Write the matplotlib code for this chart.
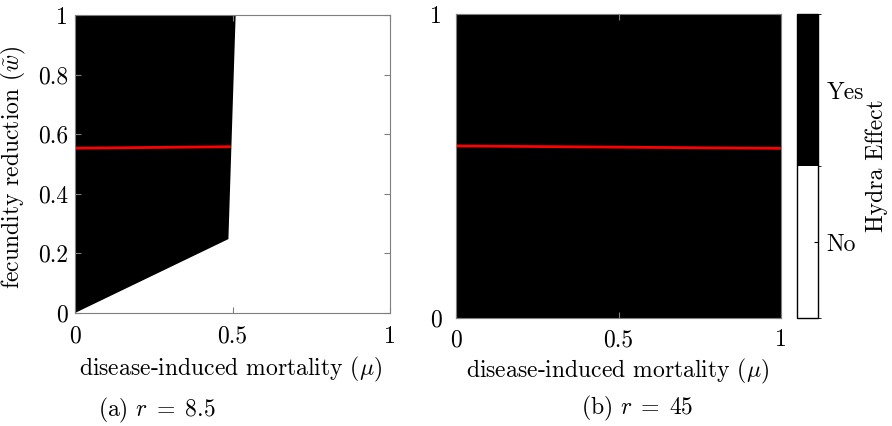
import matplotlib
matplotlib.use("Agg")
import matplotlib.pyplot as plt
from matplotlib.colors import ListedColormap, BoundaryNorm
from matplotlib.cm import ScalarMappable

plt.rcParams['font.family'] = ['cmr10', 'DejaVu Serif']
plt.rcParams['mathtext.fontset'] = 'cm'
plt.rcParams['axes.formatter.use_mathtext'] = True
FS = 17

# Panel (a): r = 8.5, Hydra-effect region (polygon boundary)
region_a_mu = [0.0, 0.487, 0.51, 0.0]
region_a_w = [0.0, 0.248, 1.0, 1.0]
red_a_mu = [0.0, 0.49]
red_a_w = [0.553, 0.558]

# Panel (b): r = 45, Hydra-effect region covers the whole domain
region_b_mu = [0.0, 1.0, 1.0, 0.0]
region_b_w = [0.0, 0.0, 1.0, 1.0]
red_b_mu = [0.0, 0.995]
red_b_w = [0.566, 0.558]

xticks_a = [0, 0.5, 1]
xticklabels_a = ['0', '0.5', '1']
yticks_a = [0, 0.2, 0.4, 0.6, 0.8, 1]
yticklabels_a = ['0', '0.2', '0.4', '0.6', '0.8', '1']
yticks_b = [0, 1]
yticklabels_b = ['0', '1']
cbar_labels = ['No', 'Yes']

fig = plt.figure(figsize=(8.92, 4.26), dpi=100)

ax1 = fig.add_axes([75/892, 113/426, 315/892, 298/426])
ax2 = fig.add_axes([456/892, 108/426, 325/892, 304/426])
cax = fig.add_axes([797/892, 108/426, 21/892, 304/426])

spine_col = '#7f7f7f'

ax1.fill(region_a_mu, region_a_w, color='black', lw=0)
ax1.plot(red_a_mu, red_a_w, color='red', lw=2)
ax1.set_xlim(0, 1)
ax1.set_ylim(0, 1)
ax1.set_xticks(xticks_a)
ax1.set_xticklabels(xticklabels_a)
ax1.set_yticks(yticks_a)
ax1.set_yticklabels(yticklabels_a)
ax1.tick_params(direction='in', length=4, color=spine_col, labelsize=FS,
                top=True, right=True)
ax1.tick_params(axis='x', pad=9)
ax1.tick_params(axis='y', pad=5)
for s in ax1.spines.values():
    s.set_color(spine_col)
    s.set_linewidth(0.8)
ax1.set_xlabel(r'disease-induced mortality ($\mu$)', fontsize=FS)
ax1.set_ylabel(r'fecundity reduction ($\tilde{w}$)', fontsize=FS)
ax1.xaxis.set_label_coords(0.495, -0.142)
ax1.yaxis.set_label_coords(-0.15, 0.49)

ax2.fill(region_b_mu, region_b_w, color='black', lw=0)
ax2.plot(red_b_mu, red_b_w, color='red', lw=2)
ax2.set_xlim(0, 1)
ax2.set_ylim(0, 1)
ax2.set_xticks(xticks_a)
ax2.set_xticklabels(xticklabels_a)
ax2.set_yticks(yticks_b)
ax2.set_yticklabels(yticklabels_b)
ax2.tick_params(direction='in', length=4, color=spine_col, labelsize=FS,
                top=True, right=True)
ax2.tick_params(axis='x', pad=8)
ax2.tick_params(axis='y', pad=10)
for s in ax2.spines.values():
    s.set_color(spine_col)
    s.set_linewidth(0.8)
ax2.set_xlabel(r'disease-induced mortality ($\mu$)', fontsize=FS)
ax2.xaxis.set_label_coords(0.497, -0.128)

cmap = ListedColormap(['white', 'black'])
norm = BoundaryNorm([0, 0.5, 1], cmap.N)
sm = ScalarMappable(norm=norm, cmap=cmap)
cb = fig.colorbar(sm, cax=cax, ticks=[0.25, 0.75])
cb.ax.set_yticklabels(cbar_labels)
cb.ax.tick_params(direction='in', length=3, labelsize=FS, pad=6)
cb.outline.set_edgecolor('black')
cb.outline.set_linewidth(1.0)
cb.set_label('Hydra Effect', fontsize=FS, labelpad=1)

fig.text(157/892, 1 - 410/426, r'(a) $r\;=\;8.5$', ha='center', va='center', fontsize=FS)
fig.text(637/892, 1 - 408/426, r'(b) $r\;=\;45$', ha='center', va='center', fontsize=FS)

fig.savefig('out.png', dpi=100)
